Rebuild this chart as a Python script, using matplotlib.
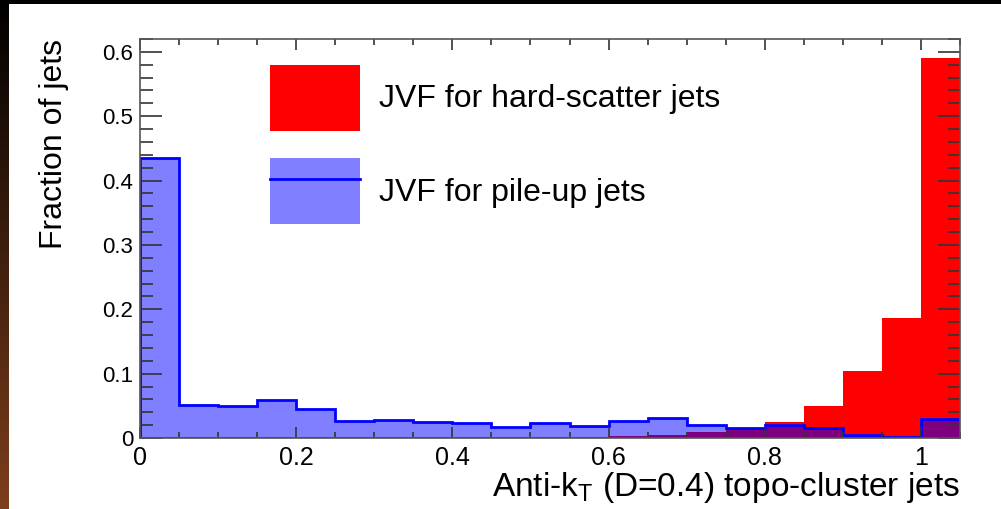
import numpy as np
import matplotlib
matplotlib.use("Agg")
from matplotlib import pyplot as plt
from matplotlib.patches import Patch, Rectangle
from matplotlib.lines import Line2D
from matplotlib.legend_handler import HandlerTuple
from matplotlib.ticker import MultipleLocator, FuncFormatter

plt.rcParams['font.family'] = ['Liberation Sans', 'DejaVu Sans']
plt.rcParams['mathtext.fontset'] = 'custom'
plt.rcParams['mathtext.rm'] = 'Liberation Sans'

# JVF binning: 21 bins of width 0.05 from 0 to 1.05
jvf_edges = np.linspace(0.0, 1.05, 22)

# fraction of hard-scatter jets per JVF bin
hard_scatter = [0.001, 0.001, 0.001, 0.001, 0.001, 0.001, 0.002, 0.002,
                0.002, 0.002, 0.002, 0.002, 0.003, 0.005, 0.010, 0.015,
                0.025, 0.049, 0.104, 0.187, 0.591]

# fraction of pile-up jets per JVF bin
pile_up = [0.435, 0.051, 0.049, 0.059, 0.045, 0.026, 0.028, 0.025,
           0.023, 0.017, 0.023, 0.019, 0.027, 0.031, 0.020, 0.016,
           0.020, 0.016, 0.005, 0.001, 0.030]

W, H = 1001, 509
fig = plt.figure(figsize=(W / 100, H / 100), dpi=100, facecolor='black')

# white canvas with a dark strip on top and a gradient strip on the left
fig.patches.append(Rectangle((9 / W, 0), 1 - 9 / W, 1 - 4 / H,
                             transform=fig.transFigure, facecolor='white',
                             edgecolor='none', zorder=-10))
strip = fig.add_axes([0, 0, 9 / W, 1])
grad = np.linspace(0, 1, 256)[:, None, None] * np.array([125, 62, 28]) / 255.0
strip.imshow(grad, aspect='auto', origin='upper')
strip.axis('off')

ax = fig.add_axes([140 / W, 1 - 438 / H, 820 / W, 399 / H])
ax.set_facecolor('white')

ax.stairs(hard_scatter, jvf_edges, fill=True, color='#ff0000', lw=0)
ax.stairs(pile_up, jvf_edges, fill=True, color=(0, 0, 1, 0.5), lw=0)
ax.stairs(pile_up, jvf_edges, color='#0000ff', lw=2)

ax.set_xlim(0, 1.05)
ax.set_ylim(0, 0.62)

fmt = FuncFormatter(lambda v, p: '%g' % round(v, 3))
ax.xaxis.set_major_locator(MultipleLocator(0.2))
ax.xaxis.set_minor_locator(MultipleLocator(0.05))
ax.yaxis.set_major_locator(MultipleLocator(0.1))
ax.yaxis.set_minor_locator(MultipleLocator(0.02))
ax.xaxis.set_major_formatter(fmt)
ax.yaxis.set_major_formatter(fmt)

ax.tick_params(axis='both', which='both', direction='in', top=True,
               right=True, color='#333333', width=1.2)
ax.tick_params(axis='x', which='major', length=8, labelsize=18, pad=6)
ax.tick_params(axis='x', which='minor', length=4)
ax.tick_params(axis='y', which='major', length=16, labelsize=16, pad=5)
ax.tick_params(axis='y', which='minor', length=9)
for sp in ax.spines.values():
    sp.set_color('#555555')
    sp.set_linewidth(1.2)

ax.set_xlabel(r'Anti-k$_\mathrm{T}$ (D=0.4) topo-cluster jets',
              fontsize=24, loc='right', labelpad=0)
ax.set_ylabel('Fraction of jets', fontsize=23, loc='top', labelpad=24)

handles = [Patch(facecolor='#ff0000', edgecolor='none'),
           (Patch(facecolor=(0, 0, 1, 0.5), edgecolor='none'),
            Line2D([], [], color='#0000ff', lw=2))]
labels = ['JVF for hard-scatter jets', 'JVF for pile-up jets']
ax.legend(handles, labels, loc='upper left', frameon=False,
          bbox_to_anchor=(270 / W, 1 - 65 / H), bbox_transform=fig.transFigure,
          fontsize=23, borderpad=0, borderaxespad=0, handlelength=2.82,
          handleheight=2.8, labelspacing=0.85, handletextpad=0.6,
          handler_map={tuple: HandlerTuple(ndivide=1)})

fig.savefig('out.png', dpi=100, facecolor=fig.get_facecolor())
